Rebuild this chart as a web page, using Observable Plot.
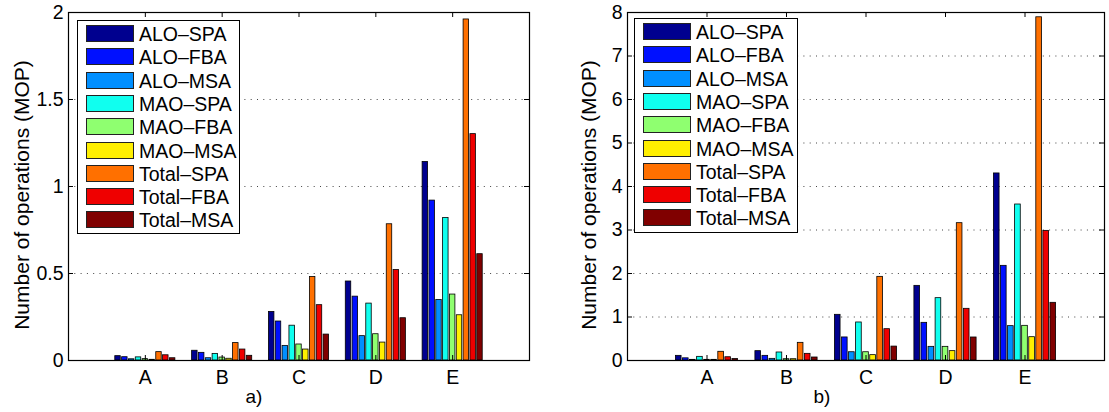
<!DOCTYPE html>
<html>
<head>
<meta charset="utf-8">
<script src="https://cdn.jsdelivr.net/npm/d3@7"></script>
<script src="https://cdn.jsdelivr.net/npm/@observablehq/plot@0.6"></script>
<style>
  body { margin: 0; background: #fff; font-family: "Liberation Sans", Arial, sans-serif; }
  #wrap { position: relative; width: 1109px; height: 412px; overflow: hidden; background: #fff; }
  .panel { position: absolute; top: 0; }
  .legend { position: absolute; border: 1.3px solid #000; background: #fff; box-sizing: border-box; }
  .item { position: absolute; left: 8px; height: 18px; white-space: nowrap; font-size: 19.5px; line-height: 18px; color: #000; }
  .sw { position: absolute; left: 0; top: 0; width: 48px; height: 17px; box-sizing: border-box; border: 1px solid #222; }
  .lt { position: absolute; left: 53px; top: 0px; }
  .cap { position: absolute; font-size: 19px; line-height: 20px; transform: translateX(-50%); color: #000; }
  .ylab { position: absolute; font-size: 21px; line-height: 21px; white-space: nowrap; color: #000;
          transform: translate(-50%, -50%) rotate(-90deg); }
</style>
</head>
<body>
<div id="wrap"></div>
<script>
// ---- data ----
const categories = ["A", "B", "C", "D", "E"];
const series = ["ALO–SPA", "ALO–FBA", "ALO–MSA", "MAO–SPA", "MAO–FBA", "MAO–MSA", "Total–SPA", "Total–FBA", "Total–MSA"];
const colors = ["#00008F", "#0010FF", "#008FFF", "#10FFEF", "#8FFF70", "#FFEF00", "#FF7000", "#EF0000", "#800000"];

// panel a)  values per series, across categories A..E (MOP)
const a_ALO_SPA   = [0.025, 0.056, 0.279, 0.454, 1.141];
const a_ALO_FBA   = [0.019, 0.044, 0.224, 0.367, 0.919];
const a_ALO_MSA   = [0.007, 0.013, 0.084, 0.140, 0.348];
const a_MAO_SPA   = [0.018, 0.038, 0.200, 0.327, 0.819];
const a_MAO_FBA   = [0.008, 0.017, 0.092, 0.151, 0.379];
const a_MAO_MSA   = [0.004, 0.010, 0.063, 0.103, 0.260];
const a_Total_SPA = [0.048, 0.100, 0.480, 0.783, 1.960];
const a_Total_FBA = [0.030, 0.063, 0.318, 0.520, 1.301];
const a_Total_MSA = [0.013, 0.027, 0.149, 0.243, 0.611];

// panel b)
const b_ALO_SPA   = [0.107, 0.215, 1.050, 1.716, 4.300];
const b_ALO_FBA   = [0.050, 0.107, 0.530, 0.866, 2.176];
const b_ALO_MSA   = [0.015, 0.038, 0.190, 0.314, 0.790];
const b_MAO_SPA   = [0.084, 0.184, 0.874, 1.433, 3.586];
const b_MAO_FBA   = [0.015, 0.030, 0.190, 0.314, 0.797];
const b_MAO_MSA   = [0.015, 0.030, 0.123, 0.215, 0.536];
const b_Total_SPA = [0.200, 0.406, 1.923, 3.157, 7.890];
const b_Total_FBA = [0.075, 0.153, 0.720, 1.188, 2.980];
const b_Total_MSA = [0.035, 0.069, 0.320, 0.529, 1.326];

const yTicksA = [0, 0.5, 1, 1.5, 2];
const yTicksB = [0, 1, 2, 3, 4, 5, 6, 7, 8];
const yLabel = "Number of operations (MOP)";
const captions = ["a)", "b)"];

// ---- drawing ----
const FONT = "Liberation Sans, Arial, Helvetica, sans-serif";

function panel(values, yTicks, opt) {
  const ymax = yTicks[yTicks.length - 1];
  const rows = [];
  categories.forEach((c, ci) => series.forEach((s, si) => rows.push({cat: c, ci, s, si, v: values[si][ci]})));
  const innerW = opt.width - opt.ml - opt.mr;
  const innerH = 412 - opt.mt - opt.mb;
  const groupW = 0.8, step = groupW / series.length;
  const tx = 5 * 6 / innerW, ty = 5 * ymax / innerH;
  const xPos = categories.map((c, i) => i + 1);
  const left = (d) => d.ci + 1 - groupW / 2 + d.si * step;
  return Plot.plot({
    width: opt.width, height: 412,
    marginLeft: opt.ml, marginRight: opt.mr, marginTop: opt.mt, marginBottom: opt.mb,
    style: {fontFamily: FONT, fontSize: "19.5px", color: "#000", background: "transparent", overflow: "visible"},
    x: {domain: [0, 6], axis: null},
    y: {domain: [0, ymax], axis: null},
    color: {domain: series, range: colors},
    marks: [
      Plot.ruleY(yTicks.filter(t => t > 0 && t < ymax), {stroke: "#444", strokeWidth: 1, strokeDasharray: "1,5.3"}),
      Plot.rectY(rows, {
        x1: d => left(d) + step * 0.1,
        x2: d => left(d) + step * 0.9,
        y1: 0, y2: "v", fill: "s", stroke: "#000", strokeWidth: 0.8
      }),
      Plot.frame({stroke: "#000", strokeWidth: 1.2}),
      Plot.ruleY(yTicks, {y: d => d, x1: 0, x2: tx, stroke: "#000"}),
      Plot.ruleY(yTicks, {y: d => d, x1: 6 - tx, x2: 6, stroke: "#000"}),
      Plot.ruleX(xPos, {x: d => d, y1: 0, y2: ty, stroke: "#000"}),
      Plot.ruleX(xPos, {x: d => d, y1: ymax - ty, y2: ymax, stroke: "#000"}),
      Plot.axisX({ticks: xPos, tickSize: 0, tickPadding: 10, tickFormat: i => categories[i - 1], fontSize: 19.5, label: null}),
      Plot.axisY({ticks: yTicks, tickSize: 0, tickPadding: 5, tickFormat: d => String(d), fontSize: 19.5, label: null})
    ]
  });
}

function legend(box) {
  const lg = document.createElement("div");
  lg.className = "legend";
  Object.assign(lg.style, {left: box.x + "px", top: box.y + "px", width: box.w + "px", height: box.h + "px"});
  series.forEach((s, i) => {
    const it = document.createElement("div");
    it.className = "item";
    it.style.top = (4 + i * 23.3) + "px";
    const sw = document.createElement("div");
    sw.className = "sw";
    sw.style.background = colors[i];
    const t = document.createElement("div");
    t.className = "lt";
    t.textContent = s;
    it.appendChild(sw); it.appendChild(t);
    lg.appendChild(it);
  });
  return lg;
}

const wrap = document.getElementById("wrap");
const valsA = [a_ALO_SPA, a_ALO_FBA, a_ALO_MSA, a_MAO_SPA, a_MAO_FBA, a_MAO_MSA, a_Total_SPA, a_Total_FBA, a_Total_MSA];
const valsB = [b_ALO_SPA, b_ALO_FBA, b_ALO_MSA, b_MAO_SPA, b_MAO_FBA, b_MAO_MSA, b_Total_SPA, b_Total_FBA, b_Total_MSA];

const pa = panel(valsA, yTicksA, {width: 555, ml: 68, mr: 26, mt: 12, mb: 52});
pa.classList.add("panel"); pa.style.left = "0px";
wrap.appendChild(pa);
const pb = panel(valsB, yTicksB, {width: 554, ml: 72, mr: 5, mt: 12, mb: 52});
pb.classList.add("panel"); pb.style.left = "555px";
wrap.appendChild(pb);

wrap.appendChild(legend({x: 77, y: 20, w: 163, h: 214}));
wrap.appendChild(legend({x: 634, y: 18, w: 164, h: 215}));

[[21, 195], [588, 195]].forEach(([x, y]) => {
  const l = document.createElement("div");
  l.className = "ylab";
  l.style.left = x + "px"; l.style.top = y + "px";
  l.textContent = yLabel;
  wrap.appendChild(l);
});

[[254, captions[0]], [822, captions[1]]].forEach(([x, t]) => {
  const c = document.createElement("div");
  c.className = "cap";
  c.style.left = x + "px"; c.style.top = "387px";
  c.textContent = t;
  wrap.appendChild(c);
});
</script>
</body>
</html>
